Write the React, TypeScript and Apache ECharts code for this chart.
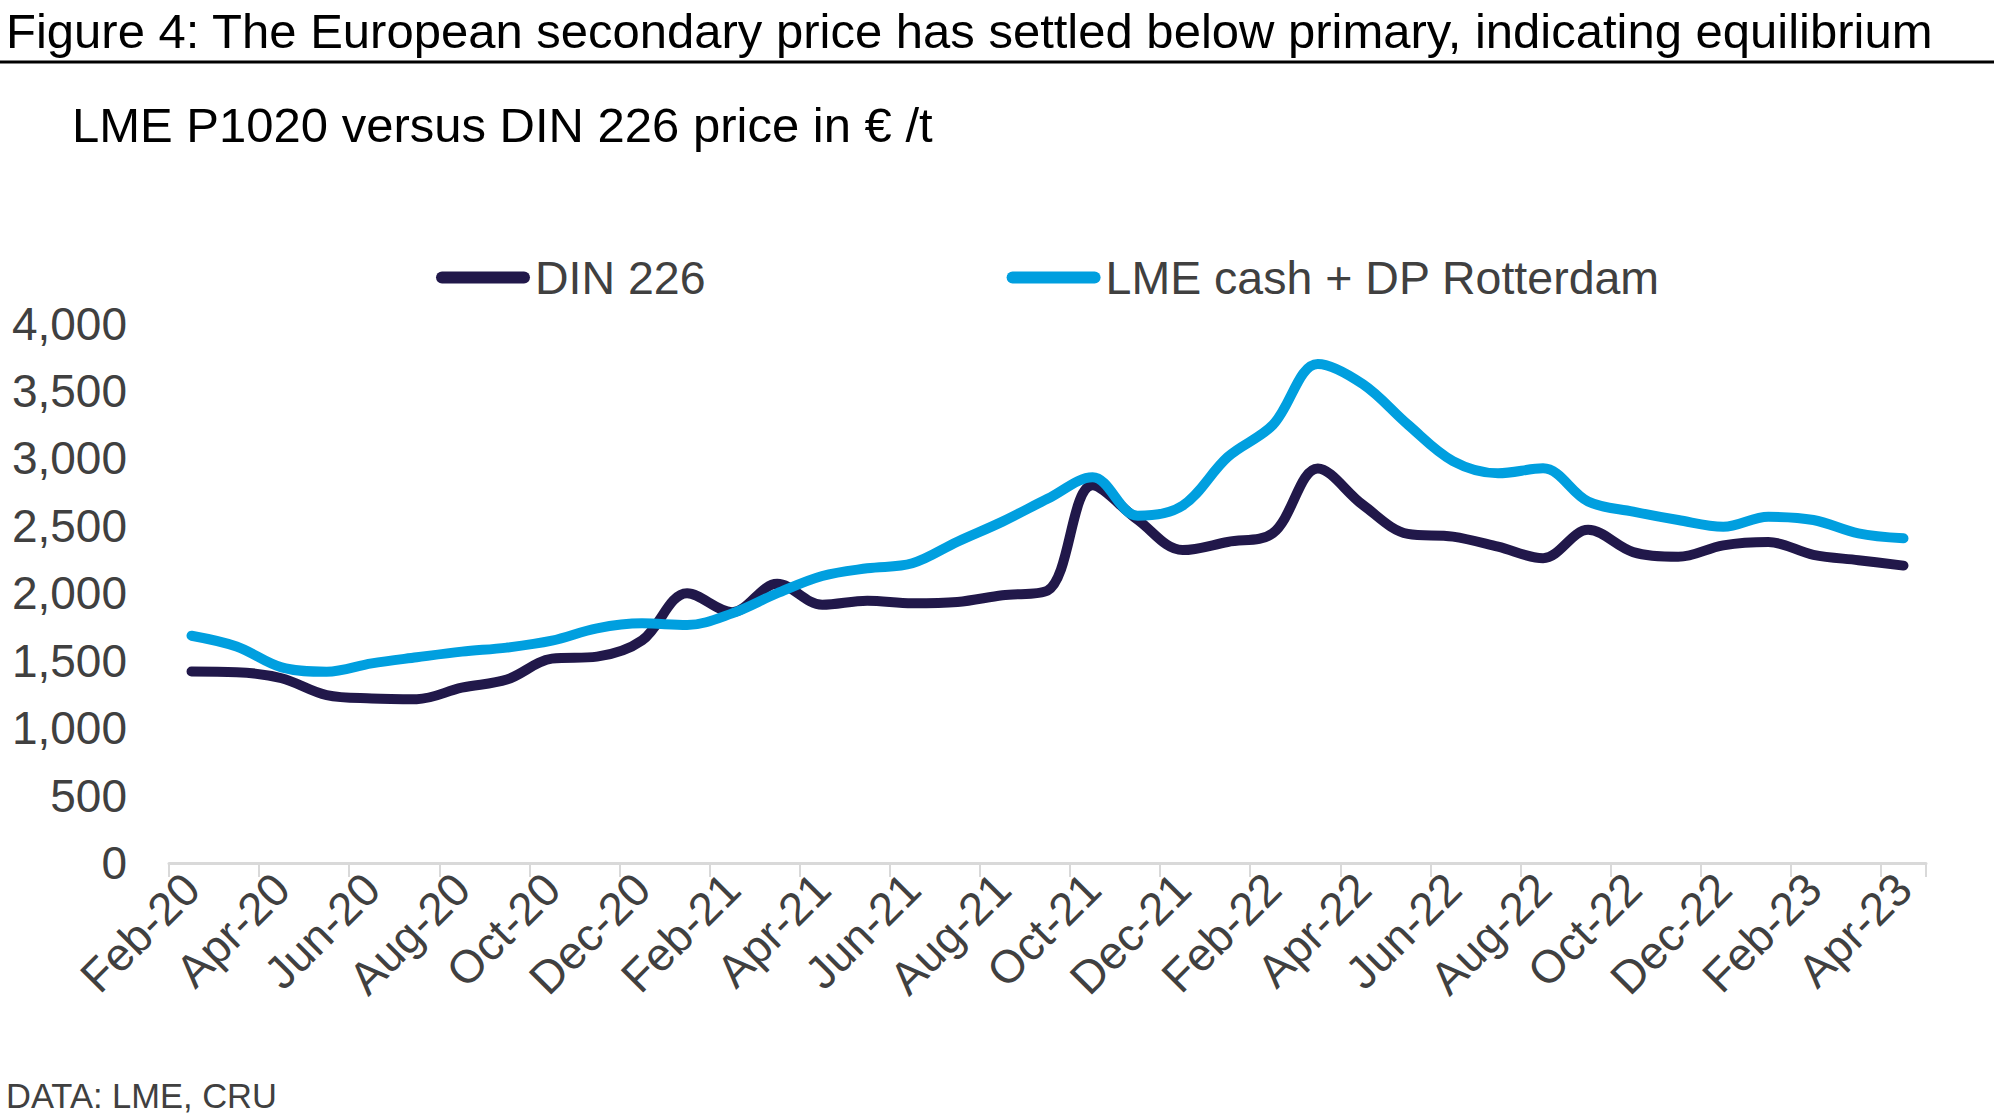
import { useEffect, useRef } from "react"
import * as echarts from "echarts"

const FONT = '"Liberation Sans", Arial, sans-serif'

const months = [
  "Feb-20", "Mar-20", "Apr-20", "May-20", "Jun-20", "Jul-20", "Aug-20", "Sep-20", "Oct-20", "Nov-20", "Dec-20",
  "Jan-21", "Feb-21", "Mar-21", "Apr-21", "May-21", "Jun-21", "Jul-21", "Aug-21", "Sep-21", "Oct-21", "Nov-21", "Dec-21",
  "Jan-22", "Feb-22", "Mar-22", "Apr-22", "May-22", "Jun-22", "Jul-22", "Aug-22", "Sep-22", "Oct-22", "Nov-22", "Dec-22",
  "Jan-23", "Feb-23", "Mar-23", "Apr-23",
]

// DIN 226 (secondary), €/t
const dinValues = [
  1420, 1415, 1370, 1245, 1220, 1215, 1300, 1360, 1515, 1530, 1650,
  2000, 1860, 2070, 1915, 1945, 1925, 1935, 1985, 2020, 2800, 2545, 2320,
  2380, 2445, 2925, 2655, 2440, 2420, 2345, 2260, 2470, 2305, 2270, 2355,
  2380, 2285, 2245, 2205,
]

// LME cash + duty paid Rotterdam premium, €/t
const lmeValues = [
  1685, 1605, 1450, 1418, 1480, 1525, 1567, 1597, 1648, 1740, 1777,
  1765, 1851, 2000, 2128, 2185, 2222, 2382, 2531, 2700, 2860, 2575, 2650,
  3010, 3247, 3700, 3550, 3250, 2980, 2890, 2926, 2680, 2605, 2543, 2493,
  2567, 2543, 2444, 2407,
]

const yMax = 4000
const yStep = 500

const pill = "path://M6,0H88A6,6 0 0 1 88,12H6A6,6 0 0 1 6,0Z"

export default function App() {
  const chartRef = useRef<HTMLDivElement>(null)

  useEffect(() => {
    if (!chartRef.current) return
    const chart = echarts.init(chartRef.current, null, { renderer: "svg" })

    const option = {
      animation: false,
      backgroundColor: "#ffffff",
      textStyle: { fontFamily: FONT },
      graphic: [
        {
          type: "text",
          style: {
            text: "Figure 4: The European secondary price has settled below primary, indicating equilibrium",
            x: 6, y: 31,
            fontSize: 49, fontFamily: FONT, fill: "#000000",
            textVerticalAlign: "middle",
          },
        },
        {
          type: "line",
          shape: { x1: 0, y1: 62, x2: 1994, y2: 62 },
          style: { stroke: "#000000", lineWidth: 3 },
        },
        {
          type: "text",
          style: {
            text: "LME P1020 versus DIN 226 price in € /t",
            x: 72, y: 125,
            fontSize: 49, fontFamily: FONT, fill: "#000000",
            textVerticalAlign: "middle",
          },
        },
        {
          type: "text",
          style: {
            text: "DATA: LME, CRU",
            x: 6, y: 1096,
            fontSize: 34.5, fontFamily: FONT, fill: "#404040",
            textVerticalAlign: "middle",
          },
        },
      ],
      legend: {
        left: 436,
        top: 254,
        padding: 0,
        itemWidth: 94,
        itemHeight: 12,
        itemGap: 301,
        icon: pill,
        itemStyle: { borderWidth: 0 },
        textStyle: { fontSize: 46.5, color: "#404040", fontFamily: FONT },
        data: ["DIN 226", "LME cash + DP Rotterdam"],
      },
      grid: { left: 169, right: 68, top: 323.5, bottom: 254, containLabel: false },
      xAxis: {
        type: "category",
        data: months,
        boundaryGap: true,
        axisLine: { lineStyle: { color: "#d9d9d9", width: 3 } },
        axisTick: { show: true, interval: 1, length: 14, lineStyle: { color: "#d9d9d9", width: 2 } },
        axisLabel: {
          interval: 1,
          rotate: 45,
          margin: 18,
          fontSize: 46,
          color: "#404040",
          fontFamily: FONT,
        },
        splitLine: { show: false },
      },
      yAxis: {
        type: "value",
        min: 0,
        max: yMax,
        interval: yStep,
        axisLine: { show: false },
        axisTick: { show: false },
        splitLine: { show: false },
        axisLabel: {
          margin: 42,
          fontSize: 46,
          color: "#404040",
          fontFamily: FONT,
          formatter: (v: number) => v.toLocaleString("en-US"),
        },
      },
      series: [
        {
          name: "DIN 226",
          type: "line",
          data: dinValues,
          smooth: 0.35,
          symbol: "none",
          itemStyle: { color: "#21184a" },
          lineStyle: { color: "#21184a", width: 10, cap: "round", join: "round" },
        },
        {
          name: "LME cash + DP Rotterdam",
          type: "line",
          data: lmeValues,
          smooth: 0.35,
          symbol: "none",
          itemStyle: { color: "#009fdf" },
          lineStyle: { color: "#009fdf", width: 10, cap: "round", join: "round" },
        },
      ],
    }

    chart.setOption(option)

    return () => {
      chart.dispose()
    }
  }, [])

  return (
    <div
      ref={chartRef}
      style={{ position: "fixed", left: 0, top: 0, width: 1994, height: 1117, background: "#fff" }}
    />
  )
}
